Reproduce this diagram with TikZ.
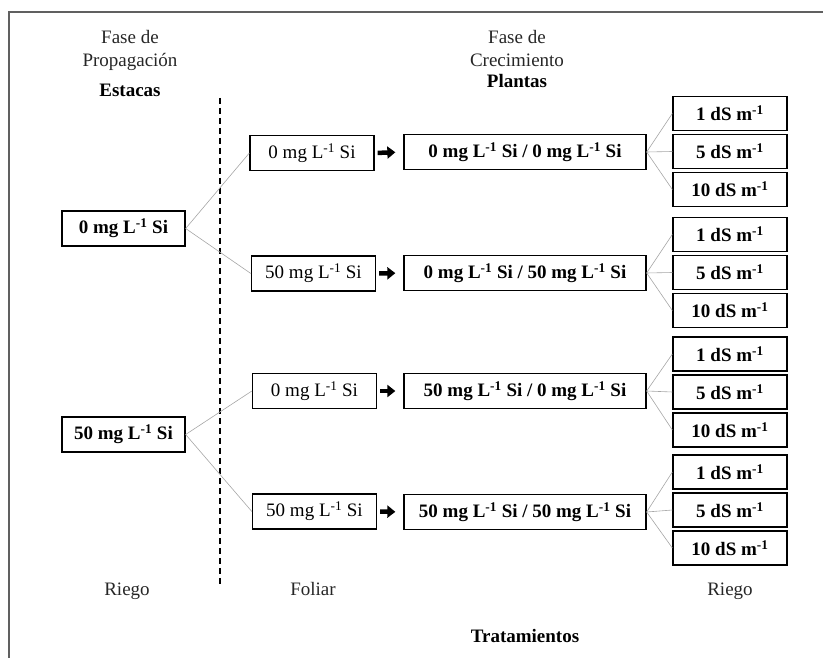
\documentclass[tikz,border=0pt]{standalone}
\usepackage{fontspec}
\setmainfont{Liberation Serif}
\usetikzlibrary{arrows.meta}
\newcommand{\siconc}[1]{#1 mg L\textsuperscript{-1} Si}
\newcommand{\ecval}[1]{#1 dS m\textsuperscript{-1}}
\begin{document}
\begin{tikzpicture}[x=1pt,y=-1pt,
    every node/.style={font=\fontsize{19}{24}\selectfont},
    caja/.style={draw, line width=1.3pt, inner sep=0pt, minimum height=35pt},
    cajab/.style={caja, font=\fontsize{19}{24}\selectfont\bfseries},
    rotulo/.style={anchor=base, text=black!85},
    rotulob/.style={anchor=base, font=\fontsize{19}{24}\selectfont\bfseries},
    enlace/.style={draw=gray!70, line width=0.6pt},
    flecha/.style={line width=4.5pt, -{Triangle[length=8pt,width=12pt]},
      shorten <=3pt, shorten >=8pt}]
    \useasboundingbox (0,0) rectangle (823,658);
    % marco
    \draw [gray!75!black, line width=1.6pt] (823,12) -- (9,12) -- (9,658);
    % titulos
    \node [rotulo] (fprop) at (130,44) {Fase de};
    \node [rotulo] (fprop2) at (130,67) {Propagación};
    \node [rotulob] (estacas) at (130,97) {Estacas};
    \node [rotulo] (fcrec) at (517,44) {Fase de};
    \node [rotulo] (fcrec2) at (517,67) {Crecimiento};
    \node [rotulob] (plantas) at (517,88) {Plantas};
    % separador
    \draw [line width=1.2pt, dash pattern=on 6pt off 4pt] (220,98) -- (220,587);
    % riego estacas
    \node [cajab, minimum width=123pt] (e0) at (123.5,228.5) {\siconc{0}};
    \node [cajab, minimum width=123pt] (e50) at (123.5,434.5) {\siconc{50}};
    % foliar
    \node [caja, minimum width=124pt] (f1) at (312,153) {\siconc{0}};
    \node [caja, minimum width=124pt] (f2) at (313.5,273.5) {\siconc{50}};
    \node [caja, minimum width=124pt] (f3) at (314.5,391) {\siconc{0}};
    \node [caja, minimum width=124pt] (f4) at (314.5,511.5) {\siconc{50}};
    \draw [enlace] (e0.east) -- (f1.west);
    \draw [enlace] (e0.east) -- (f2.west);
    \draw [enlace] (e50.east) -- (f3.west);
    \draw [enlace] (e50.east) -- (f4.west);
    % tratamientos
    \node [cajab, minimum width=242pt] (t1) at (525,152) {\siconc{0} / \siconc{0}};
    \node [cajab, minimum width=242pt] (t2) at (525,273) {\siconc{0} / \siconc{50}};
    \node [cajab, minimum width=242pt] (t3) at (525,391) {\siconc{50} / \siconc{0}};
    \node [cajab, minimum width=242pt] (t4) at (525,512) {\siconc{50} / \siconc{50}};
    \foreach \i in {1,...,4}
      \draw [flecha] (f\i.east) -- (t\i.west);
    % riego plantas
    \foreach \i/\yc in {1/151.5, 2/272.5, 3/392, 4/510} {
      \node [cajab, minimum width=114pt, minimum height=34pt] (r\i a) at (730,\yc-38) {\ecval{1}};
      \node [cajab, minimum width=114pt, minimum height=34pt] (r\i b) at (730,\yc) {\ecval{5}};
      \node [cajab, minimum width=114pt, minimum height=34pt] (r\i c) at (730,\yc+38) {\ecval{10}};
      \draw [enlace] (t\i.east) -- (r\i a.west);
      \draw [enlace] (t\i.east) -- (r\i b.west);
      \draw [enlace] (t\i.east) -- (r\i c.west);
    }
    % etiquetas inferiores
    \node [rotulo] (riego1) at (127,595) {Riego};
    \node [rotulo] (foliar) at (313,595) {Foliar};
    \node [rotulo] (riego2) at (730,595) {Riego};
    \node [rotulob] (trat) at (525,642) {Tratamientos};
\end{tikzpicture}
\end{document}
